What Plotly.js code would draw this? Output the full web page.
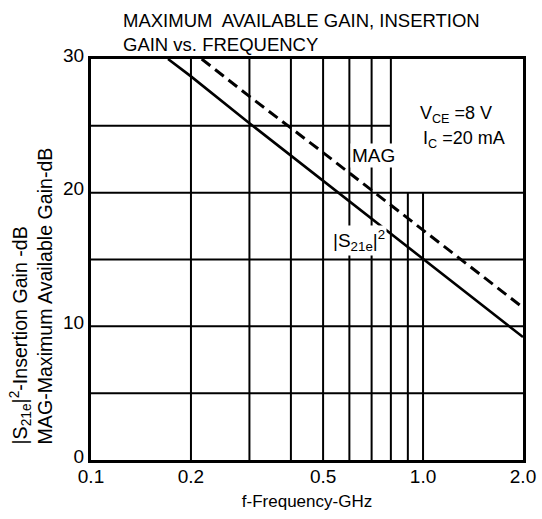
<!DOCTYPE html>
<html>
<head>
<meta charset="utf-8">
<script src="https://cdn.plot.ly/plotly-3.0.1.min.js"></script>
<style>html,body{margin:0;padding:0;background:#fff;}#chart{width:542px;height:519px;}</style>
</head>
<body>
<div id="chart"></div>
<script>
// Data
const freqS21 = [0.1706, 0.2, 0.3, 0.5, 1.0, 2.0];      // GHz
const gainS21 = [30, 28.7, 25.2, 20.9, 15.0, 9.2];      // dB, |S21e|^2
const freqMAG = [0.2155, 0.3, 0.5, 1.0, 2.0];           // GHz
const gainMAG = [30, 27.2, 23.0, 17.2, 11.4];           // dB, MAG
const xTickVals = [0.1, 0.2, 0.5, 1.0, 2.0];
const xTickText = ['0.1', '0.2', '0.5', '1.0', '2.0'];
const yTickVals = [0, 10, 20, 30];
const yTickText = ['0', '10', '20', '30'];
const xGridFull = [0.2, 0.3, 0.4, 0.5, 0.6, 0.7, 0.8];
const xGridLow = [0.9, 1.0];      // drawn from 0 to 20 dB
const yGridFull = [5, 10, 15, 20];
const yGridPart = [25];           // drawn from 0.1 to 0.8 GHz

const FONT = '"Liberation Sans", Arial, Helvetica, sans-serif';
const gridLine = {color: '#000', width: 2};
const shapes = [];
xGridFull.forEach(v => shapes.push({type: 'line', xref: 'x', yref: 'y', x0: v, x1: v, y0: 0, y1: 30, line: gridLine, layer: 'below'}));
xGridLow.forEach(v => shapes.push({type: 'line', xref: 'x', yref: 'y', x0: v, x1: v, y0: 0, y1: 20, line: gridLine, layer: 'below'}));
yGridFull.forEach(v => shapes.push({type: 'line', xref: 'x', yref: 'y', x0: 0.1, x1: 2.0, y0: v, y1: v, line: gridLine, layer: 'below'}));
yGridPart.forEach(v => shapes.push({type: 'line', xref: 'x', yref: 'y', x0: 0.1, x1: 0.8, y0: v, y1: v, line: gridLine, layer: 'below'}));

const traces = [
  {x: freqS21, y: gainS21, mode: 'lines', name: '|S21e|²', line: {color: '#000', width: 2.6}},
  {x: freqMAG, y: gainMAG, mode: 'lines', name: 'MAG', line: {color: '#000', width: 3, dash: '11px,6px'}}
];

const layout = {
  width: 542, height: 519,
  margin: {l: 91, r: 19, t: 59, b: 59},
  paper_bgcolor: '#fff', plot_bgcolor: '#fff',
  showlegend: false,
  font: {family: FONT, color: '#000', size: 18},
  title: {
    text: 'MAXIMUM  AVAILABLE GAIN, INSERTION<br>GAIN vs. FREQUENCY',
    font: {family: FONT, size: 18.5, color: '#000'},
    xref: 'container', x: 123 / 542, xanchor: 'left',
    yref: 'container', y: 1 - 27 / 519, yanchor: 'top'
  },
  xaxis: {
    type: 'log', range: [-1, Math.log10(2)],
    tickvals: xTickVals, ticktext: xTickText,
    ticks: '', showgrid: false, zeroline: false,
    showline: true, mirror: true, linecolor: '#000', linewidth: 3,
    ticklabelstandoff: -3,
    tickfont: {family: FONT, size: 19, color: '#000'},
    title: {text: 'f-Frequency-GHz', font: {family: FONT, size: 17, color: '#000'}, standoff: 10}
  },
  yaxis: {
    range: [0, 30],
    tickvals: yTickVals, ticktext: yTickText,
    ticks: '', showgrid: false, zeroline: false,
    showline: true, mirror: true, linecolor: '#000', linewidth: 3,
    ticklabelshift: -4,
    tickfont: {family: FONT, size: 19, color: '#000'},
    title: {text: ''}
  },
  shapes: shapes,
  annotations: [
    {xref: 'paper', yref: 'paper', x: (31 - 91) / 432, y: (460 - 447) / 401,
     xanchor: 'center', yanchor: 'bottom', textangle: -90, align: 'left', showarrow: false,
     text: '|S<sub>21e</sub>|<sup>2</sup>-Insertion Gain -dB<br>MAG-Maximum Available Gain-dB',
     font: {family: FONT, size: 19.6, color: '#000'}},
    {xref: 'paper', yref: 'paper', x: (373 - 91) / 432, y: (460 - 155) / 401,
     xanchor: 'center', yanchor: 'middle', showarrow: false, bgcolor: '#fff',
     text: 'MAG', font: {family: FONT, size: 19, color: '#000'}},
    {xref: 'paper', yref: 'paper', x: (359 - 91) / 432, y: (460 - 240) / 401,
     xanchor: 'center', yanchor: 'middle', showarrow: false, bgcolor: '#fff',
     text: '|S<sub>21e</sub>|<sup>2</sup>', font: {family: FONT, size: 19, color: '#000'}},
    {xref: 'paper', yref: 'paper', x: (418 - 91) / 432, y: (460 - 114) / 401,
     xanchor: 'left', yanchor: 'middle', showarrow: false,
     text: 'V<sub>CE</sub> =8 V', font: {family: FONT, size: 18, color: '#000'}},
    {xref: 'paper', yref: 'paper', x: (421 - 91) / 432, y: (460 - 139) / 401,
     xanchor: 'left', yanchor: 'middle', showarrow: false,
     text: 'I<sub>C</sub> =20 mA', font: {family: FONT, size: 18, color: '#000'}}
  ]
};

Plotly.newPlot('chart', traces, layout, {displayModeBar: false, staticPlot: true});
</script>
</body>
</html>
